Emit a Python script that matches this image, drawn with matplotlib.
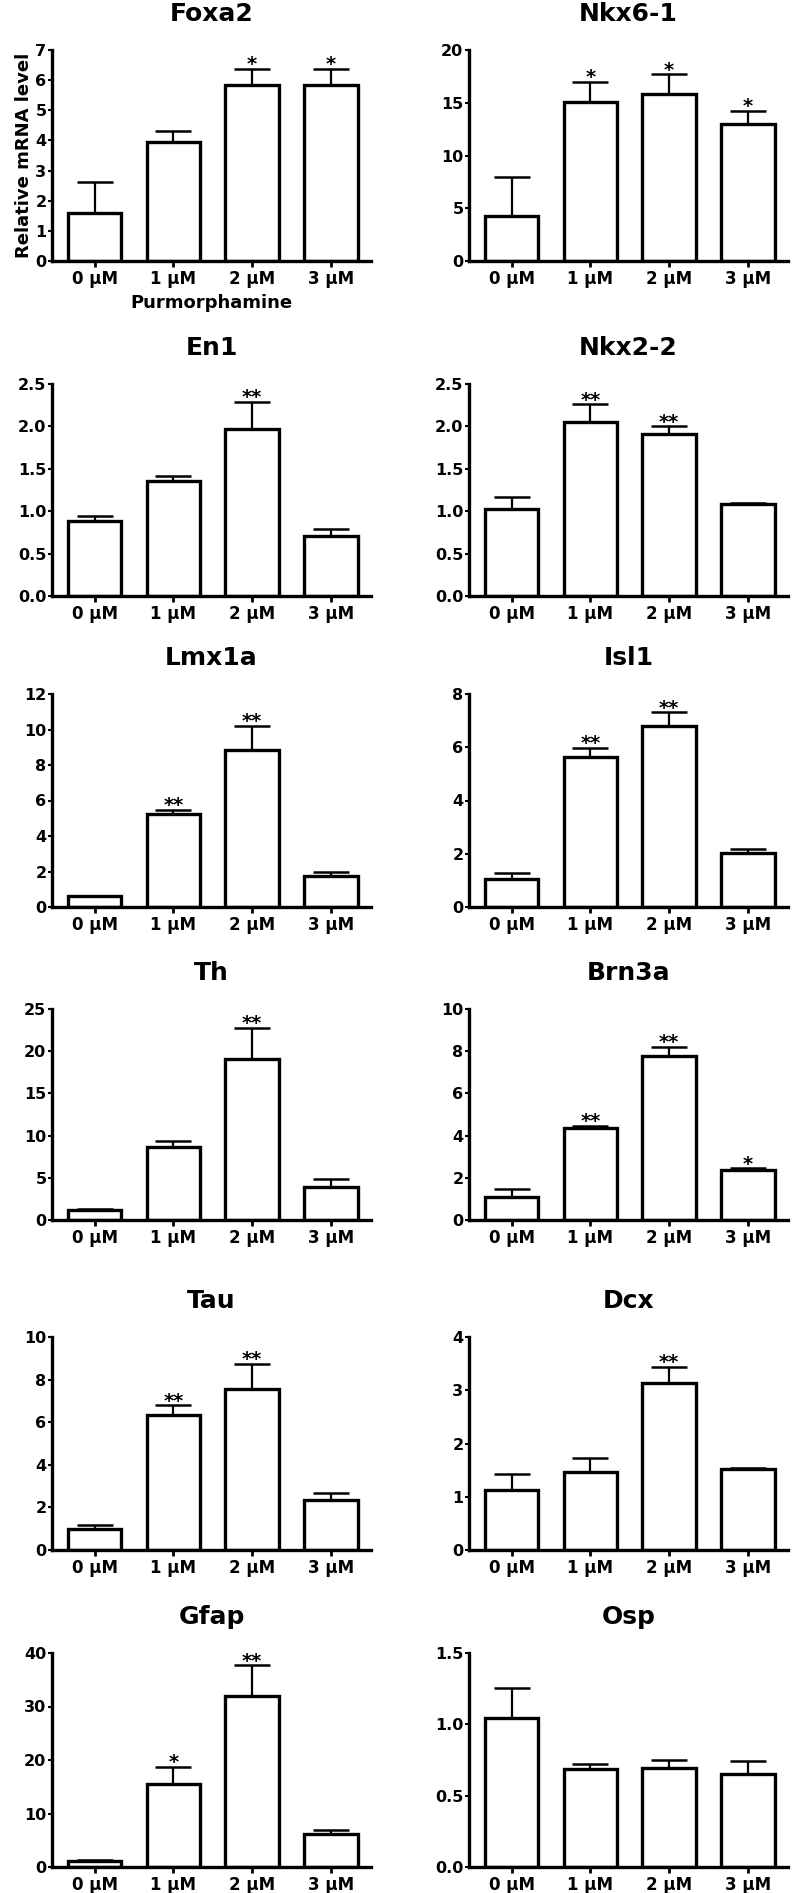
import numpy as np
import matplotlib
matplotlib.use("Agg")
import matplotlib.pyplot as plt
from matplotlib.ticker import FormatStrFormatter

plt.rcParams['font.family'] = ['DejaVu Sans']
plt.rcParams['font.weight'] = 'bold'

doses = ['0 µM', '1 µM', '2 µM', '3 µM']

# mean and upper error (SEM) per gene
foxa2 = [1.58, 3.95, 5.85, 5.85]
foxa2_err = [1.05, 0.37, 0.53, 0.53]
foxa2_sig = ['', '', '*', '*']

nkx61 = [4.23, 15.1, 15.86, 12.95]
nkx61_err = [3.76, 1.86, 1.85, 1.28]
nkx61_sig = ['', '*', '*', '*']

en1 = [0.88, 1.36, 1.97, 0.71]
en1_err = [0.06, 0.055, 0.32, 0.08]
en1_sig = ['', '', '**', '']

nkx22 = [1.03, 2.05, 1.91, 1.08]
nkx22_err = [0.14, 0.21, 0.09, 0.015]
nkx22_sig = ['', '**', '**', '']

lmx1a = [0.60, 5.22, 8.87, 1.73]
lmx1a_err = [0.03, 0.24, 1.34, 0.25]
lmx1a_sig = ['', '**', '**', '']

isl1 = [1.06, 5.62, 6.81, 2.02]
isl1_err = [0.20, 0.35, 0.50, 0.14]
isl1_sig = ['', '**', '**', '']

th = [1.15, 8.62, 19.1, 3.96]
th_err = [0.19, 0.72, 3.7, 0.91]
th_sig = ['', '', '**', '']

brn3a = [1.09, 4.37, 7.75, 2.36]
brn3a_err = [0.40, 0.08, 0.45, 0.09]
brn3a_sig = ['', '**', '**', '*']

tau = [0.99, 6.33, 7.57, 2.37]
tau_err = [0.18, 0.47, 1.17, 0.31]
tau_sig = ['', '**', '**', '']

dcx = [1.12, 1.46, 3.13, 1.52]
dcx_err = [0.31, 0.27, 0.31, 0.02]
dcx_sig = ['', '', '**', '']

gfap = [1.13, 15.5, 32.0, 6.08]
gfap_err = [0.25, 3.2, 5.7, 0.75]
gfap_sig = ['', '*', '**', '']

osp = [1.045, 0.686, 0.696, 0.654]
osp_err = [0.21, 0.034, 0.054, 0.086]
osp_sig = ['', '', '', '']

# (title, values, errors, stars, ymax, ystep, tick format)
panels = [
    ('Foxa2', foxa2, foxa2_err, foxa2_sig, 7, 1, '%d'),
    ('Nkx6-1', nkx61, nkx61_err, nkx61_sig, 20, 5, '%d'),
    ('En1', en1, en1_err, en1_sig, 2.5, 0.5, '%.1f'),
    ('Nkx2-2', nkx22, nkx22_err, nkx22_sig, 2.5, 0.5, '%.1f'),
    ('Lmx1a', lmx1a, lmx1a_err, lmx1a_sig, 12, 2, '%d'),
    ('Isl1', isl1, isl1_err, isl1_sig, 8, 2, '%d'),
    ('Th', th, th_err, th_sig, 25, 5, '%d'),
    ('Brn3a', brn3a, brn3a_err, brn3a_sig, 10, 2, '%d'),
    ('Tau', tau, tau_err, tau_sig, 10, 2, '%d'),
    ('Dcx', dcx, dcx_err, dcx_sig, 4, 1, '%d'),
    ('Gfap', gfap, gfap_err, gfap_sig, 40, 10, '%d'),
    ('Osp', osp, osp_err, osp_sig, 1.5, 0.5, '%.1f'),
]

W, H = 792, 1893
fig = plt.figure(figsize=(W / 100, H / 100), dpi=100)

col_left = [52, 469]
col_width = 319
rows = [(50, 261), (384, 596), (694, 907), (1009, 1220), (1337, 1550), (1653, 1867)]

x = np.arange(len(doses))
for i, (name, vals, errs, sig, ymax, ystep, fmt) in enumerate(panels):
    r, c = divmod(i, 2)
    top, bottom = rows[r]
    ax = fig.add_axes([col_left[c] / W, 1 - bottom / H, col_width / W, (bottom - top) / H])

    ax.bar(x, vals, width=0.68, color='white', edgecolor='black', linewidth=2.4, zorder=2)
    ax.errorbar(x, vals, yerr=[np.zeros(len(vals)), errs], fmt='none', ecolor='black',
                elinewidth=1.6, capsize=13, capthick=1.8, zorder=1)
    for xi, v, e, s in zip(x, vals, errs, sig):
        if s:
            ax.annotate(s, (xi, v + e), xytext=(0, -1), textcoords='offset points',
                        ha='center', va='baseline', fontsize=14, fontweight='bold')

    ax.set_xlim(-0.54, 3.51)
    ax.set_ylim(0, ymax)
    ax.set_yticks(np.arange(0, ymax + ystep / 2, ystep))
    ax.yaxis.set_major_formatter(FormatStrFormatter(fmt))
    ax.set_xticks(x)
    ax.set_xticklabels(doses)
    ax.spines['top'].set_visible(False)
    ax.spines['right'].set_visible(False)
    ax.spines['left'].set_linewidth(2.4)
    ax.spines['bottom'].set_linewidth(2.4)
    ax.tick_params(axis='y', length=3, width=1.5, labelsize=11.5, pad=1)
    ax.tick_params(axis='x', length=4.5, width=2, labelsize=12, pad=2)
    for lab in ax.get_xticklabels() + ax.get_yticklabels():
        lab.set_fontweight('bold')
    ax.set_title(name, fontsize=18, fontweight='bold', pad=21)

    if name == 'Foxa2':
        ax.set_ylabel('Relative mRNA level', fontsize=13, fontweight='bold', labelpad=2)
        ax.set_xlabel('Purmorphamine', fontsize=13, fontweight='bold', labelpad=4)

fig.savefig('out.png', dpi=100)
